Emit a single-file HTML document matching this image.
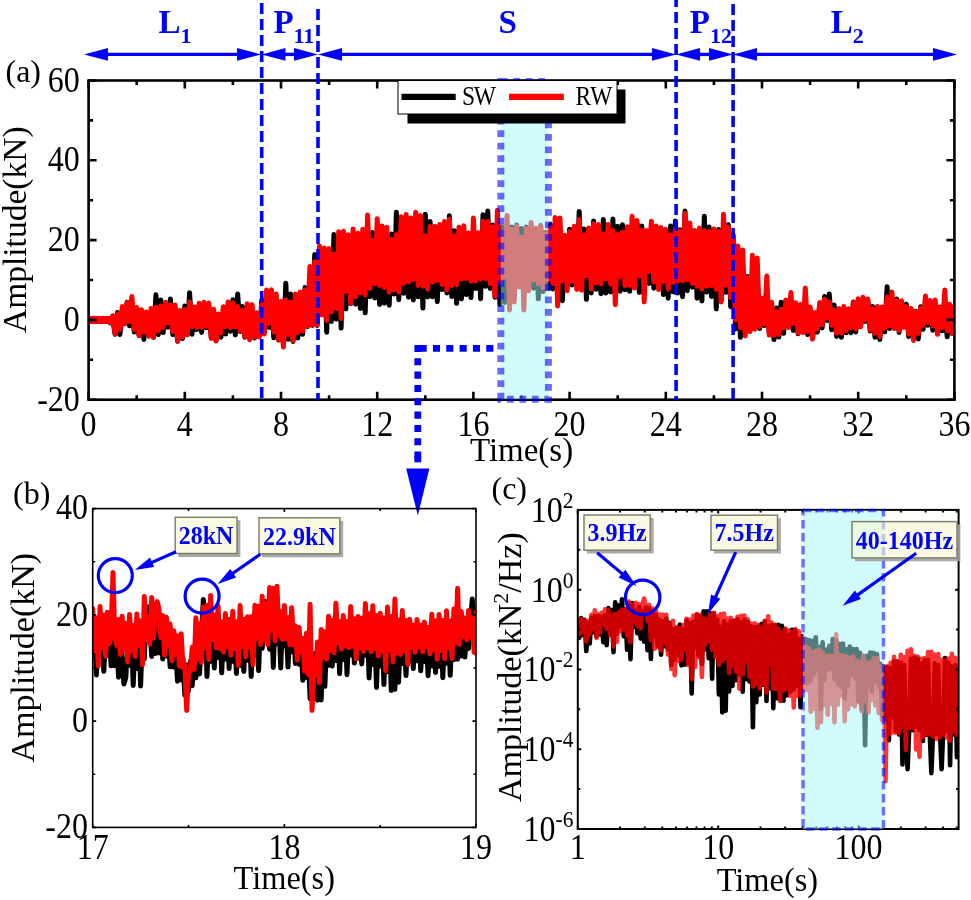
<!DOCTYPE html>
<html lang="en">
<head>
<meta charset="utf-8">
<title>Figure</title>
<style>html,body{margin:0;padding:0;background:#fff}svg{display:block}</style>
</head>
<body>
<svg width="971" height="900" viewBox="0 0 971 900" font-family="'Liberation Serif', 'Times New Roman', serif">
<rect width="971" height="900" fill="#fff"/>
<defs>
<clipPath id="ca"><rect x="88.6" y="80.5" width="865.8" height="319.2"/></clipPath>
<clipPath id="cb"><rect x="92.7" y="508.6" width="383.3" height="318.8"/></clipPath>
<clipPath id="cc"><rect x="577.8" y="509.9" width="380.8" height="319.1"/></clipPath>
</defs>
<g clip-path="url(#ca)" fill="none" stroke-linejoin="round" stroke-linecap="round" stroke-width="5">
<path stroke="#000" d="M88.6 321L91 321.2L93.4 320.9L95.8 321.3L98.2 320.8L100.6 321.4L103 320.8L105.4 321.4L107.8 320.7L110.2 322.9L112.6 318L115.1 334.3L117.5 312.6L119.9 334.5L122.3 312.2L124.7 323.7L127.1 302.3L129.5 325.7L131.9 307.8L134.3 332L136.7 312.7L139.1 335.6L141.5 311.7L143.9 339.4L146.3 312.7L148.7 332.8L151.1 314.3L153.5 337.3L155.9 294.8L158.3 334.5L160.8 300L163.2 332.6L165.6 303.6L168 327.2L170.4 299L172.8 334.6L175.2 316.7L177.6 341.3L180 314.6L182.4 338.5L184.8 305.9L187.2 334.5L189.6 292.8L192 334.2L194.4 309.7L196.8 329.6L199.2 305.1L201.6 332.4L204 303.3L206.4 327.7L208.8 309.7L211.3 338L213.7 313.5L216.1 340.7L218.5 315.4L220.9 337.2L223.3 312.5L225.7 334L228.1 307L230.5 331.2L232.9 299.8L235.3 334.9L237.7 294L240.1 331.4L242.5 306.5L244.9 337.3L247.3 310.2L249.7 338.6L252.1 313.1L254.5 338.1L256.9 313L259.4 334L261.8 300.1L264.2 333L266.6 292.4L269 327.3L271.4 300L273.8 337.8L276.2 300.6L278.6 340L281 306.6L283.4 343.3L285.8 283.2L288.2 339.3L290.6 293.9L293 341.4L295.4 303.2L297.8 338L300.2 300.7L302.6 334.3L305 287.6L307.5 326.6L309.9 276.2L312.3 325.5L314.7 254.5L317.1 325.5L319.5 269.3L321.9 314.5L324.3 267.2L326.7 332.2L329.1 250.9L331.5 321.4L333.9 234.6L336.3 319.3L338.7 237.2L341.1 328.1L343.5 243.6L345.9 308.9L348.3 250.8L350.7 303.7L353.1 248.3L355.6 304.2L358 248.1L360.4 308.4L362.8 236.8L365.2 312.8L367.6 237.1L370 296.7L372.4 232.4L374.8 298L377.2 242.5L379.6 304.4L382 235.8L384.4 303.2L386.8 239.5L389.2 305.2L391.6 234.1L394 294.1L396.4 212.2L398.8 299.7L401.2 228.5L403.7 293.3L406.1 234.2L408.5 297.2L410.9 234.7L413.3 300L415.7 241.9L418.1 296.8L420.5 226.7L422.9 308.1L425.3 214.2L427.7 296.9L430.1 221.5L432.5 296.8L434.9 241.7L437.3 301.7L439.7 240.6L442.1 289.6L444.5 235.1L446.9 292.9L449.4 215.8L451.8 296.6L454.2 230.8L456.6 303.3L459 229.9L461.4 299L463.8 238.3L466.2 294.6L468.6 234.9L471 297.6L473.4 231.4L475.8 288.6L478.2 234.5L480.6 298.8L483 214.7L485.4 286.3L487.8 211L490.2 288.5L492.6 225.1L495 297.3L497.4 242.3L499.9 304.4L502.3 226.7L504.7 302.4L507.1 227.7L509.5 283.3L511.9 227.1L514.3 291.5L516.7 224.9L519.1 286L521.5 228.6L523.9 289.7L526.3 227L528.7 289L531.1 232.8L533.5 288.2L535.9 232.1L538.3 298.8L540.7 225.5L543.1 291.6L545.6 232.5L548 288.6L550.4 224.4L552.8 289L555.2 227.1L557.6 287.7L560 234.6L562.4 300.7L564.8 241.6L567.2 283.8L569.6 229.2L572 285.1L574.4 227.7L576.8 285.6L579.2 211.4L581.6 285.8L584 229.1L586.4 299.5L588.8 229L591.2 292.9L593.6 221.1L596.1 289.3L598.5 234.4L600.9 293.7L603.3 219.6L605.7 293.1L608.1 237.7L610.5 292L612.9 219L615.3 295.4L617.7 226.3L620.1 291.2L622.5 224.7L624.9 289.8L627.3 231.8L629.7 291.3L632.1 240.3L634.5 284.9L636.9 222.8L639.3 292.4L641.8 226.1L644.2 292.7L646.6 232.4L649 283.4L651.4 224.7L653.8 288.2L656.2 228.8L658.6 284.2L661 229.7L663.4 294.6L665.8 232.1L668.2 298.2L670.6 225.9L673 291.8L675.4 220.9L677.8 293.1L680.2 229.7L682.6 296.7L685 211L687.4 290.7L689.9 235.7L692.3 287.2L694.7 231.1L697.1 298.2L699.5 237.4L701.9 300.9L704.3 216.2L706.7 292.1L709.1 227L711.5 296.4L713.9 229.7L716.3 308.9L718.7 229.6L721.1 300.4L723.5 232.8L725.9 292.3L728.3 224.7L730.7 306.8L733.1 234.7L735.5 329L737.9 269L740.4 337.3L742.8 266.3L745.2 327.8L747.6 276.4L750 330.7L752.4 279.1L754.8 325.5L757.2 283.6L759.6 328.6L762 299.3L764.4 325.6L766.8 299L769.2 332.5L771.6 309.3L774 339.6L776.4 308.1L778.8 337.1L781.2 302.2L783.6 333.2L786 300.2L788.5 324.5L790.9 302.2L793.3 330.5L795.7 307L798.1 333.8L800.5 311.4L802.9 330.8L805.3 305.5L807.7 334.5L810.1 308.9L812.5 338.6L814.9 313.9L817.3 332.3L819.7 304.9L822.1 328.1L824.5 296.6L826.9 320.5L829.3 294L831.7 329.8L834.1 304.9L836.6 336.4L839 309.7L841.4 337.3L843.8 310.8L846.2 332.7L848.6 309.1L851 332.7L853.4 302L855.8 331.9L858.2 300.9L860.6 325.2L863 304.6L865.4 321.4L867.8 300.4L870.2 331L872.6 306.4L875 337.2L877.4 314.3L879.8 339.6L882.2 307.5L884.7 331.8L887.1 286.8L889.5 328.4L891.9 304.1L894.3 328.3L896.7 298.9L899.1 332.4L901.5 302.6L903.9 327L906.3 304.2L908.7 336.5L911.1 309.1L913.5 336.7L915.9 311.2L918.3 338.9L920.7 306.8L923.1 329.3L925.5 300.4L927.9 325.2L930.4 302.9L932.8 330.2L935.2 303.9L937.6 333.8L940 312.2L942.4 330.8L944.8 308.2L947.2 336.7L949.6 310.2L952 333.3L954.4 311.8"/>
<path stroke="#ff0000" d="M88.6 318.6L91 321.2L93.4 318.5L95.8 321.3L98.2 318.5L100.6 321.4L103 318.4L105.4 321.4L107.8 318.3L110.2 322.6L112.6 315.7L115.1 333.6L117.5 313.8L119.9 329.6L122.3 306.4L124.7 323.4L127.1 302.6L129.5 321.6L131.9 296.5L134.3 329.4L136.7 307.5L139.1 335.8L141.5 309.7L143.9 332.2L146.3 312.1L148.7 336.3L151.1 308.4L153.5 337.1L155.9 307.2L158.3 330.7L160.8 306.1L163.2 327.4L165.6 302.3L168 323L170.4 305L172.8 331.6L175.2 304.9L177.6 341.2L180 310.5L182.4 337.1L184.8 309.6L187.2 334.7L189.6 302.1L192 326.7L194.4 306.9L196.8 327.5L199.2 303.2L201.6 327.3L204 302.3L206.4 326.2L208.8 303L211.3 338.3L213.7 309.3L216.1 340.9L218.5 314L220.9 332.8L223.3 306.8L225.7 326.6L228.1 302L230.5 327.8L232.9 302.9L235.3 326.9L237.7 306.4L240.1 330.7L242.5 310.3L244.9 336.5L247.3 303.8L249.7 339.7L252.1 304.8L254.5 337L256.9 313.1L259.4 337L261.8 304.8L264.2 334L266.6 289.9L269 323.3L271.4 289.7L273.8 332.1L276.2 294.1L278.6 339.6L281 301.4L283.4 347L285.8 299.7L288.2 334.3L290.6 302.1L293 340.5L295.4 294.1L297.8 332.6L300.2 291.9L302.6 331L305 290L307.5 326.1L309.9 266.6L312.3 324.9L314.7 261.7L317.1 324.8L319.5 246L321.9 314.9L324.3 248.1L326.7 320.3L329.1 248.5L331.5 312L333.9 253.9L336.3 308.5L338.7 231.7L341.1 318.5L343.5 231.2L345.9 291.3L348.3 234.7L350.7 303.2L353.1 228.9L355.6 296.6L358 233.2L360.4 293L362.8 229.2L365.2 294.9L367.6 215L370 288.3L372.4 240L374.8 283.7L377.2 218.7L379.6 285.5L382 225.9L384.4 287.4L386.8 227.3L389.2 292.2L391.6 239.3L394 289.8L396.4 234.4L398.8 291.9L401.2 216.8L403.7 283.3L406.1 214.5L408.5 282L410.9 217.9L413.3 279.4L415.7 212.2L418.1 285.5L420.5 215.4L422.9 286.2L425.3 235.7L427.7 288.9L430.1 226.4L432.5 282.1L434.9 226.3L437.3 280.5L439.7 224.4L442.1 284.4L444.5 221.5L446.9 289.7L449.4 219.2L451.8 285.6L454.2 235.7L456.6 284.7L459 227.2L461.4 278.9L463.8 225.8L466.2 278.6L468.6 233L471 281.1L473.4 218L475.8 280.9L478.2 232.8L480.6 278.9L483 221.2L485.4 278.7L487.8 221.5L490.2 283.7L492.6 226.7L495 296L497.4 210.2L499.9 281.9L502.3 232.8L504.7 277.3L507.1 215.4L509.5 309.9L511.9 229.3L514.3 301.9L516.7 226.3L519.1 287L521.5 237.1L523.9 309.9L526.3 228.4L528.7 290.8L531.1 222.5L533.5 279.8L535.9 228.3L538.3 283.8L540.7 225.9L543.1 287.7L545.6 233.8L548 279.6L550.4 227.7L552.8 283.6L555.2 217.4L557.6 305.9L560 217.9L562.4 280.7L564.8 235.3L567.2 290.7L569.6 231.7L572 281.3L574.4 226.3L576.8 289.4L579.2 219.4L581.6 290.2L584 234.8L586.4 275.8L588.8 228.1L591.2 288.8L593.6 223.7L596.1 282.8L598.5 224.5L600.9 284L603.3 233.8L605.7 278.8L608.1 224.6L610.5 284L612.9 230.5L615.3 304.7L617.7 234.4L620.1 276.4L622.5 232.1L624.9 285.6L627.3 226.8L629.7 285.3L632.1 216.2L634.5 288.1L636.9 220.4L639.3 275.8L641.8 229.9L644.2 301.9L646.6 230.4L649 271.5L651.4 221.2L653.8 281.8L656.2 226.1L658.6 289.6L661 227.5L663.4 281.4L665.8 229.3L668.2 288.9L670.6 234.8L673 282.3L675.4 228.9L677.8 280.9L680.2 230.9L682.6 280.7L685 213.4L687.4 279.8L689.9 223L692.3 283.5L694.7 230.4L697.1 286.3L699.5 228.1L701.9 289L704.3 230.7L706.7 286.1L709.1 231.6L711.5 285.7L713.9 229L716.3 289.5L718.7 231.3L721.1 301.9L723.5 214.3L725.9 285.3L728.3 227.1L730.7 297.8L733.1 237.3L735.5 320L737.9 246.1L740.4 327.7L742.8 250.1L745.2 336L747.6 277.4L750 331.6L752.4 255.3L754.8 329.2L757.2 258.1L759.6 326.5L762 298.3L764.4 323.9L766.8 276L769.2 335.1L771.6 302.2L774 335.2L776.4 311.8L778.8 334.3L781.2 308.9L783.6 328.1L786 300.2L788.5 327.6L790.9 292.6L793.3 323.4L795.7 302.8L798.1 333L800.5 304.4L802.9 332.5L805.3 288L807.7 331.5L810.1 306.9L812.5 339L814.9 312.6L817.3 329.1L819.7 302.4L822.1 324.7L824.5 299.3L826.9 317.9L829.3 301.9L831.7 325.2L834.1 309.9L836.6 333.3L839 308.5L841.4 333L843.8 306.6L846.2 330.7L848.6 309.3L851 327.7L853.4 302.5L855.8 329.1L858.2 298.7L860.6 326.9L863 297.2L865.4 319.9L867.8 299.1L870.2 329.9L872.6 308.7L875 333.3L877.4 306.5L879.8 336.4L882.2 306.9L884.7 328.3L887.1 297.1L889.5 325.8L891.9 292L894.3 328.3L896.7 300.9L899.1 330.4L901.5 300.8L903.9 327.3L906.3 306.5L908.7 334.1L911.1 308.6L913.5 340.4L915.9 311.5L918.3 333.4L920.7 307.9L923.1 325.5L925.5 295.9L927.9 322L930.4 300.5L932.8 326L935.2 300.1L937.6 334.3L940 306.9L942.4 327.4L944.8 290L947.2 330.7L949.6 304.3L952 333.3L954.4 306.3"/>
<path stroke="#ff0000" stroke-width="7.6" stroke-linecap="butt" d="M88.6 319.9H110.2"/>
</g>
<g stroke="#000" stroke-width="2.6" fill="none">
<rect x="88.6" y="80.5" width="865.8" height="319.2"/>
<path d="M88.6 399.7v-8 M88.6 80.5v8M136.7 399.7v-4.5 M136.7 80.5v4.5M184.8 399.7v-8 M184.8 80.5v8M232.9 399.7v-4.5 M232.9 80.5v4.5M281 399.7v-8 M281 80.5v8M329.1 399.7v-4.5 M329.1 80.5v4.5M377.2 399.7v-8 M377.2 80.5v8M425.3 399.7v-4.5 M425.3 80.5v4.5M473.4 399.7v-8 M473.4 80.5v8M521.5 399.7v-4.5 M521.5 80.5v4.5M569.6 399.7v-8 M569.6 80.5v8M617.7 399.7v-4.5 M617.7 80.5v4.5M665.8 399.7v-8 M665.8 80.5v8M713.9 399.7v-4.5 M713.9 80.5v4.5M762 399.7v-8 M762 80.5v8M810.1 399.7v-4.5 M810.1 80.5v4.5M858.2 399.7v-8 M858.2 80.5v8M906.3 399.7v-4.5 M906.3 80.5v4.5M954.4 399.7v-8 M954.4 80.5v8M88.6 399.7h8 M954.4 399.7h-8M88.6 359.8h4.5 M954.4 359.8h-4.5M88.6 319.9h8 M954.4 319.9h-8M88.6 280h4.5 M954.4 280h-4.5M88.6 240.1h8 M954.4 240.1h-8M88.6 200.2h4.5 M954.4 200.2h-4.5M88.6 160.3h8 M954.4 160.3h-8M88.6 120.4h4.5 M954.4 120.4h-4.5M88.6 80.5h8 M954.4 80.5h-8"/>
</g>
<rect x="500.8" y="81.5" width="47.6" height="317.7" fill="rgb(165,250,250)" fill-opacity="0.5" stroke="#0000ff" stroke-opacity="0.58" stroke-width="7" stroke-dasharray="6.8 5.7"/>
<g stroke="#0000ff" stroke-width="3.6" stroke-dasharray="11 5" fill="none">
<path d="M261.7 3V399.7"/>
<path d="M318 9V399.7"/>
<path d="M676.1 -4V399.7"/>
<path d="M733.1 4V399.7"/>
</g>
<rect x="407.5" y="89.5" width="218" height="34" fill="#000"/>
<rect x="398" y="80.5" width="219" height="33.5" fill="#fff" stroke="#000" stroke-width="1"/>
<path d="M401.5 96.9H455.7" stroke="#000" stroke-width="6.4"/>
<path d="M509 96.9H563.8" stroke="#ff0000" stroke-width="6.4"/>
<text transform="translate(462 104.8) scale(1 1.17)" font-size="23.5" textLength="34" lengthAdjust="spacing">SW</text>
<text transform="translate(575.5 104.8) scale(1 1.17)" font-size="23.5" textLength="37" lengthAdjust="spacing">RW</text>
<g font-size="32" fill="#000">
<text transform="translate(88.6 436.2) scale(1 1.09)" text-anchor="middle">0</text>
<text transform="translate(184.8 436.2) scale(1 1.09)" text-anchor="middle">4</text>
<text transform="translate(281 436.2) scale(1 1.09)" text-anchor="middle">8</text>
<text transform="translate(377.2 436.2) scale(1 1.09)" text-anchor="middle">12</text>
<text transform="translate(473.4 436.2) scale(1 1.09)" text-anchor="middle">16</text>
<text transform="translate(569.6 436.2) scale(1 1.09)" text-anchor="middle">20</text>
<text transform="translate(665.8 436.2) scale(1 1.09)" text-anchor="middle">24</text>
<text transform="translate(762 436.2) scale(1 1.09)" text-anchor="middle">28</text>
<text transform="translate(858.2 436.2) scale(1 1.09)" text-anchor="middle">32</text>
<text transform="translate(954.4 436.2) scale(1 1.09)" text-anchor="middle">36</text>
<text transform="translate(79.8 410.7) scale(1 1.09)" text-anchor="end">-20</text>
<text transform="translate(79.8 330.9) scale(1 1.09)" text-anchor="end">0</text>
<text transform="translate(79.8 251.1) scale(1 1.09)" text-anchor="end">20</text>
<text transform="translate(79.8 171.3) scale(1 1.09)" text-anchor="end">40</text>
<text transform="translate(79.8 91.5) scale(1 1.09)" text-anchor="end">60</text>
<text transform="translate(469.9 461.2) scale(1 1.05)" font-size="33">Time(s)</text>
<text transform="translate(25.7 333) rotate(-90)" font-size="33.5">Amplitude(kN)</text>
<text x="5.5" y="82">(a)</text>
</g>
<path d="M106 54.4H239" stroke="#0000ff" stroke-width="3.4"/><path d="M84 54.4l24 -6.3v12.6z" fill="#0000ff"/><path d="M261 54.4l-24 -6.3v12.6z" fill="#0000ff"/>
<path d="M283.5 54.4H296" stroke="#0000ff" stroke-width="3.4"/><path d="M261.5 54.4l24 -6.3v12.6z" fill="#0000ff"/><path d="M318 54.4l-24 -6.3v12.6z" fill="#0000ff"/>
<path d="M340 54.4H654" stroke="#0000ff" stroke-width="3.4"/><path d="M318 54.4l24 -6.3v12.6z" fill="#0000ff"/><path d="M676 54.4l-24 -6.3v12.6z" fill="#0000ff"/>
<path d="M698 54.4H711" stroke="#0000ff" stroke-width="3.4"/><path d="M676 54.4l24 -6.3v12.6z" fill="#0000ff"/><path d="M733 54.4l-24 -6.3v12.6z" fill="#0000ff"/>
<path d="M755 54.4H935" stroke="#0000ff" stroke-width="3.4"/><path d="M733 54.4l24 -6.3v12.6z" fill="#0000ff"/><path d="M957 54.4l-24 -6.3v12.6z" fill="#0000ff"/>
<g font-weight="bold" fill="#0000ff" font-size="33">
<text x="158.6" y="33.3">L<tspan font-size="22" dy="9.3">1</tspan></text>
<text x="273.4" y="33.3">P<tspan font-size="22" dy="9.3">11</tspan></text>
<text x="498.5" y="33.3">S<tspan font-size="22" dy="9.3"></tspan></text>
<text x="689.8" y="33.3">P<tspan font-size="22" dy="9.3">12</tspan></text>
<text x="830.8" y="33.3">L<tspan font-size="22" dy="9.3">2</tspan></text>
</g>
<path d="M419.6 348.4H494M417.8 344.9V463" fill="none" stroke="#0000ff" stroke-width="6.8" stroke-dasharray="7.1 6.23"/>
<path d="M417.8 456V462.3" fill="none" stroke="#0000ff" stroke-width="6.8"/>
<path d="M406.2 468.4h23.2l-11.6 47.2z" fill="#0000ff"/>
<g clip-path="url(#cb)" fill="none" stroke-linejoin="round" stroke-linecap="round" stroke-width="5">
<path stroke="#000" d="M92.7 655.5L94.5 621.8L96.4 675L98.2 632.3L100.1 656.9L101.9 627.1L103.8 671.3L105.6 633.2L107.4 655.6L109.3 628.1L111.1 665.8L113 632L114.8 665.7L116.7 633.5L118.5 677.2L120.3 636.1L122.2 667.3L124 683.9L125.9 677L127.7 637.2L129.6 665.2L131.4 630.1L133.2 685.5L135.1 636.1L136.9 668.6L138.8 622.4L140.6 686L142.5 632.4L144.3 658.8L146.1 615L148 606.9L149.8 622.8L151.7 656.4L153.5 619.3L155.4 653.6L157.2 620.3L159 652.9L160.9 618.9L162.7 659L164.6 631.8L166.4 656L168.3 631.7L170.1 666.8L171.9 642.2L173.8 667L175.6 645.9L177.5 681.2L179.3 653.1L181.2 679.9L183 658.3L184.8 695.2L186.7 665L188.5 690.9L190.4 661.3L192.2 685.7L194.1 654L195.9 677.8L197.7 641.5L199.6 674L201.4 637.7L203.3 599.5L205.1 620L207 676.6L208.8 626.4L210.6 661.2L212.5 624.6L214.3 668L216.2 630.7L218 657.6L219.9 625L221.7 672.8L223.5 633.6L225.4 658.9L227.2 631.8L229.1 668.6L230.9 634.2L232.8 661.3L234.6 628.8L236.4 673.5L238.3 636.3L240.1 665.4L242 629L243.8 671.4L245.7 632.9L247.5 660.2L249.3 629.7L251.2 676.5L253 629.2L254.9 654.8L256.7 622.9L258.6 670.6L260.4 623.8L262.2 648.3L264.1 612.1L265.9 601.6L267.8 621.2L269.6 649.2L271.5 615.3L273.3 667.4L275.1 616.2L277 643.5L278.8 617.6L280.7 668L282.5 623.7L284.4 646.1L286.2 625.4L288 667.1L289.9 630.9L291.7 651.7L293.6 629.3L295.4 663.4L297.2 640L299.1 664.3L300.9 639.1L302.8 680.3L304.6 652.7L306.5 677.4L308.3 657.2L310.1 698.7L312 669.1L313.8 686.8L315.7 652.7L317.5 700.2L319.4 653.7L321.2 699.9L323 637.2L324.9 686.3L326.7 637.7L328.6 665.3L330.4 621.5L332.3 666.2L334.1 631.8L335.9 660.5L337.8 622.8L339.6 673.7L341.5 629.5L343.3 659.5L345.2 624.4L347 674.7L348.8 631.6L350.7 655.1L352.5 623.4L354.4 663.1L356.2 631.5L358.1 658.1L359.9 627.8L361.7 663.9L363.6 630L365.4 655.3L367.3 621.6L369.1 678L371 631.9L372.8 664.6L374.6 626.8L376.5 687.5L378.3 633.5L380.2 665.9L382 624.1L383.9 684.6L385.7 631.7L387.5 671.6L389.4 619.1L391.2 690.5L393.1 636L394.9 689.3L396.8 627L398.6 682.2L400.4 635.5L402.3 663.5L404.1 633.5L406 675.6L407.8 635.4L409.7 659.9L411.5 634.8L413.3 668.5L415.2 636.5L417 660.7L418.9 629.1L420.7 670.8L422.6 639.6L424.4 661.4L426.2 636.4L428.1 675.7L429.9 639.5L431.8 665.9L433.6 632.5L435.5 672.5L437.3 639.7L439.1 666.3L441 625.4L442.8 677.7L444.7 634.2L446.5 663.3L448.4 625L450.2 675.3L452 634.8L453.9 659.6L455.7 621.6L457.6 659.2L459.4 632.4L461.3 655.9L463.1 627.8L464.9 657.1L466.8 626.4L468.6 648.4L470.5 620.6L472.3 598.9L474.2 633.3L476 652.9"/>
<path stroke="#ff0000" d="M92.7 608.6L94.5 650.8L96.4 618L98.2 666L100.1 606.4L101.9 647.8L103.8 614.9L105.6 656.2L107.4 612.3L109.3 644L111.1 630.8L113 572.4L114.8 638.8L116.7 645.4L118.5 619.6L120.3 654.4L122.2 616.3L124 648.8L125.9 623.3L127.7 662L129.6 614.4L131.4 651.1L133.2 625.3L135.1 656.3L136.9 613.9L138.8 645.4L140.6 620.7L142.5 664.6L144.3 596.6L146.1 640.2L148 616.5L149.8 644.2L151.7 597.4L153.5 638L155.4 611.3L157.2 601.6L159 609L160.9 637.6L162.7 615.4L164.6 654.8L166.4 617.2L168.3 645.9L170.1 624.1L171.9 660.7L173.8 630.8L175.6 654.6L177.5 635.8L179.3 666L181.2 633.8L183 667.8L184.8 665.3L186.7 710.5L188.5 673.3L190.4 670.7L192.2 647.3L194.1 669.3L195.9 617.8L197.7 659.2L199.6 624.1L201.4 662.4L203.3 607.1L205.1 648.2L207 605.3L208.8 659.5L210.6 595.4L212.5 639.4L214.3 614.9L216.2 647.8L218 605.4L219.9 648.7L221.7 622L223.5 652L225.4 613.6L227.2 646.7L229.1 619.3L230.9 655.1L232.8 611.2L234.6 648.7L236.4 621.7L238.3 665.4L240.1 605.6L242 646.4L243.8 619.2L245.7 657L247.5 616.8L249.3 647.1L251.2 616.7L253 665L254.9 605.3L256.7 638.5L258.6 606.2L260.4 644.5L262.2 596.3L264.1 640.6L265.9 603.8L267.8 644.9L269.6 587.6L271.5 629.9L273.3 588.3L275.1 640.7L277 586.2L278.8 635.8L280.7 611.8L282.5 639.4L284.4 605.4L286.2 638.8L288 617.6L289.9 644.9L291.7 607.7L293.6 645L295.4 625.7L297.2 660L299.1 627.5L300.9 652.8L302.8 638.5L304.6 671.3L306.5 633.2L308.3 674.5L310.1 604.2L312 710.5L313.8 673.3L315.7 675.1L317.5 642L319.4 682.6L321.2 629.6L323 656.7L324.9 631.8L326.7 658.9L328.6 616.3L330.4 650.4L332.3 620.6L334.1 652.7L335.9 603.2L337.8 642.5L339.6 621.4L341.5 648.9L343.3 615.4L345.2 646.2L347 621.4L348.8 647.7L350.7 606.4L352.5 646.1L354.4 618.7L356.2 658.9L358.1 616.4L359.9 648.2L361.7 618.2L363.6 651.4L365.4 603.5L367.3 648L369.1 613.6L371 651.7L372.8 605.7L374.6 648.7L376.5 615.4L378.3 656L380.2 613.2L382 651L383.9 618.1L385.7 670.7L387.5 607L389.4 650.2L391.2 616.6L393.1 661.7L394.9 599L396.8 652.9L398.6 620.1L400.4 654.4L402.3 610.5L404.1 650.7L406 620.5L407.8 664.3L409.7 619.3L411.5 646.9L413.3 624.9L415.2 652.2L417 619.4L418.9 647L420.7 624.9L422.6 651.8L424.4 622.1L426.2 646.6L428.1 627.6L429.9 653.9L431.8 614.2L433.6 650.1L435.5 620.7L437.3 659.3L439.1 614.4L441 650.4L442.8 620.4L444.7 658.7L446.5 610.8L448.4 647.7L450.2 621L452 658.4L453.9 609.1L455.7 642.3L457.6 588.3L459.4 644.3L461.3 611.5L463.1 636L464.9 618.1L466.8 639.7L468.6 610.5L470.5 637.2L472.3 617.7L474.2 652.4L476 612.6"/>
</g>
<g stroke="#000" stroke-width="1.6" fill="none">
<rect x="92.7" y="508.6" width="383.3" height="318.8"/>
<path d="M92.7 827.4v-3.5 M92.7 508.6v3.5M188.5 827.4v-2.5 M188.5 508.6v2.5M284.4 827.4v-3.5 M284.4 508.6v3.5M380.2 827.4v-2.5 M380.2 508.6v2.5M476 827.4v-3.5 M476 508.6v3.5M92.7 827.4h3.5 M476 827.4h-3.5M92.7 774.3h2.5 M476 774.3h-2.5M92.7 721.1h3.5 M476 721.1h-3.5M92.7 668h2.5 M476 668h-2.5M92.7 614.9h3.5 M476 614.9h-3.5M92.7 561.7h2.5 M476 561.7h-2.5M92.7 508.6h3.5 M476 508.6h-3.5"/>
</g>
<g font-size="32" fill="#000">
<text transform="translate(92.7 859) scale(1 1.09)" text-anchor="middle">17</text>
<text transform="translate(284.4 859) scale(1 1.09)" text-anchor="middle">18</text>
<text transform="translate(476 859) scale(1 1.09)" text-anchor="middle">19</text>
<text transform="translate(88 838.2) scale(1 1.09)" text-anchor="end">-20</text>
<text transform="translate(88 731.9) scale(1 1.09)" text-anchor="end">0</text>
<text transform="translate(88 625.7) scale(1 1.09)" text-anchor="end">20</text>
<text transform="translate(88 519.4) scale(1 1.09)" text-anchor="end">40</text>
<text transform="translate(233.6 889.2) scale(1 1.05)" font-size="32.4">Time(s)</text>
<text transform="translate(34.2 762.5) rotate(-90)" font-size="34">Amplitude(kN)</text>
<text x="13" y="503.5">(b)</text>
</g>
<circle cx="115.3" cy="575.6" r="17" fill="none" stroke="#0000ff" stroke-width="3.2"/>
<circle cx="202.1" cy="596.2" r="17" fill="none" stroke="#0000ff" stroke-width="3.2"/>
<path d="M237 520.3H240.4V556.9H178.2V553.5H237z" fill="#a0a0a0" fill-opacity="0.9"/><rect x="175.2" y="517.3" width="61.8" height="36.2" fill="rgb(247,247,212)" fill-opacity="0.62" stroke="#80806c" stroke-width="1.5"/><text transform="translate(206.1 544.1) scale(1 1.09)" text-anchor="middle" font-size="24" font-weight="bold" fill="#0000ff">28kN</text>
<path d="M339.8 520.8H343.2V557.2H262V553.8H339.8z" fill="#a0a0a0" fill-opacity="0.9"/><rect x="259" y="517.8" width="80.8" height="36" fill="rgb(247,247,212)" fill-opacity="0.62" stroke="#80806c" stroke-width="1.5"/><text transform="translate(299.4 544.5) scale(1 1.09)" text-anchor="middle" font-size="24" font-weight="bold" fill="#0000ff">22.9kN</text>
<path d="M176 551.8L150.3 563.1" stroke="#0000ff" stroke-width="3.2"/><path d="M134.7 569.9L150 557.5L154.2 567z" fill="#0000ff"/>
<path d="M260.3 554.2L231.5 574.3" stroke="#0000ff" stroke-width="3.2"/><path d="M217.6 584L230.2 568.9L236.2 577.4z" fill="#0000ff"/>
<g clip-path="url(#cc)" fill="none" stroke-linejoin="round" stroke-linecap="round" stroke-width="4.6">
<path stroke="#000" d="M577.8 625.7L579.5 637.6L581.2 618L582.9 634.9L584.6 619.9L586.3 651L588 623.1L589.7 643.5L591.4 617.7L593.1 632.3L594.8 616.4L596.5 636.4L598.2 616.1L599.9 634.4L601.6 616.6L603.3 642.3L605 615L606.7 645.1L608.4 608L610.1 634.2L611.8 610L613.5 652.1L615.2 602.4L616.9 633.9L618.6 605.3L620.3 626.2L622 599.4L623.7 636.3L625.4 609L627.1 649.7L628.8 603.8L630.5 659.1L632.2 603L633.9 626.6L635.6 610.9L637.3 633.3L639 606.7L640.7 638.5L642.4 611.5L644.1 641.7L645.8 607.5L647.5 650.1L649.2 608L650.9 658.9L652.6 611.1L654.3 636.3L656 614.6L657.7 646.2L659.4 620L661.1 654.7L662.8 621.3L664.5 646.3L666.2 618.6L667.9 649.2L669.6 622.7L671.3 665L673 629.1L674.7 659.6L676.4 628.2L678.1 655.3L679.8 624.6L681.5 665.4L683.2 629.3L684.9 664.6L686.6 620.3L688.3 662.8L690 623.1L691.7 693.4L693.4 621.9L695.1 647.7L696.8 614.7L698.5 655.8L700.2 616.3L701.9 664L703.6 611.4L705.3 649.3L707 611.4L708.7 658.2L710.4 613.4L712.1 678.7L713.8 613.2L715.5 655.4L717.2 619.5L718.9 694.4L720.6 626.8L722.3 712.4L724 621.2L725.7 710.7L727.4 624.9L729.1 691.4L730.8 621.2L732.5 686L734.2 621.1L735.9 680.3L737.6 619.4L739.3 674.6L741 622.2L742.7 691.7L744.4 619.8L746.1 679.3L747.8 622.1L749.5 681.4L751.2 626.3L752.9 727.3L754.6 627.3L756.3 702.3L758 626.5L759.7 694.4L761.4 624.1L763.1 684.6L764.8 621.2L766.5 701L768.2 626.4L769.9 688.1L771.6 625.1L773.3 708.2L775 625.4L776.7 698.3L778.4 624.7L780.1 700.3L781.8 625.7L783.5 700.7L785.2 629.4L786.9 695.4L788.6 634.7L790.3 691.6L792 629.9L793.7 689.5L795.4 629.8L797.1 685.5L798.8 638.8L800.5 707.1L802.2 636.4L803.9 679.9L805.6 639L807.3 683.5L809 640L810.7 681.2L812.4 640.9L814.1 674.5L815.8 637.4L817.5 668.7L819.2 647L820.9 709L822.6 642.4L824.3 679.9L826 649.6L827.7 669.7L829.4 645.9L831.1 669.2L832.8 639.1L834.5 679L836.2 640.6L837.9 684.1L839.6 643.7L841.3 686.8L843 643.6L844.7 698.4L846.4 649.2L848.1 685.4L849.8 646.6L851.5 675L853.2 649L854.9 678.2L856.6 649L858.3 700.8L860 652.7L861.7 708.8L863.4 656L865.1 745.2L866.8 655.9L868.5 684.9L870.2 652.5L871.9 691.6L873.6 652.7L875.3 681.4L877 654L878.7 686.5L880.4 663.9L882.1 715.3L883.8 669L885.5 719.8L887.2 666.8L888.9 740.2L890.6 668.2L892.3 717.7L894 661.4L895.7 730.9L897.4 661.5L899.1 734.5L900.8 662.9L902.5 764.4L904.2 665.1L905.9 727.5L907.6 769.2L909.3 725.6L911 658.7L912.7 730.3L914.4 657.6L916.1 726.9L917.8 658.7L919.5 729.9L921.2 663.7L922.9 741L924.6 660.3L926.3 734.7L928 659.9L929.7 732.8L931.4 773.2L933.1 729.7L934.8 663.4L936.5 733.6L938.2 665.1L939.9 731.2L941.6 769.2L943.3 728.7L945 658L946.7 731.3L948.4 662.8L950.1 765.2L951.8 666.5L953.5 734.4L955.2 665.4L956.9 757.2"/>
<path stroke="#ff0000" stroke-opacity="0.8" d="M577.8 622.1L579.5 633.9L581.2 619L582.9 632L584.6 620.6L586.3 641.3L588 621L589.7 634.3L591.4 614.9L593.1 629.2L594.8 610.3L596.5 638L598.2 614.2L599.9 633L601.6 612.8L603.3 624.4L605 609.4L606.7 629L608.4 610L610.1 634.9L611.8 614.8L613.5 646.4L615.2 614L616.9 641.9L618.6 612.4L620.3 631.5L622 609.8L623.7 629.7L625.4 609.4L627.1 635.9L628.8 601.5L630.5 642.2L632.2 604.9L633.9 621.4L635.6 602.7L637.3 625.9L639 604L640.7 628.4L642.4 604.8L644.1 598.5L645.8 608.4L647.5 621L649.2 604.7L650.9 639.9L652.6 608.5L654.3 648.8L656 611.1L657.7 647.3L659.4 614.6L661.1 650.4L662.8 614.5L664.5 642.9L666.2 614.7L667.9 654.5L669.6 623.6L671.3 668.8L673 620.9L674.7 675.1L676.4 627.2L678.1 661L679.8 628.3L681.5 659.7L683.2 625L684.9 650.1L686.6 618.8L688.3 665L690 619.6L691.7 679.2L693.4 615.6L695.1 666.9L696.8 614L698.5 657.3L700.2 614.7L701.9 676.9L703.6 618.3L705.3 644.8L707 618.8L708.7 641.4L710.4 614.4L712.1 649.7L713.8 612.8L715.5 656.9L717.2 616.4L718.9 664.6L720.6 614.1L722.3 660.9L724 613.5L725.7 658.3L727.4 618.6L729.1 672.6L730.8 617.7L732.5 665.9L734.2 620.4L735.9 671.5L737.6 616.8L739.3 688.6L741 615.7L742.7 674.1L744.4 615.6L746.1 662L747.8 619.3L749.5 676.8L751.2 623.5L752.9 686.4L754.6 623.2L756.3 683.6L758 625L759.7 688.4L761.4 627.7L763.1 684L764.8 620.9L766.5 692.5L768.2 616.2L769.9 664.4L771.6 622.5L773.3 688.6L775 624.8L776.7 689.3L778.4 628.7L780.1 700.9L781.8 632.8L783.5 690.5L785.2 628.6L786.9 688.8L788.6 630.2L790.3 695.8L792 631.9L793.7 707.4L795.4 629.2L797.1 696L798.8 631.3L800.5 695.4L802.2 637.9L803.9 691L805.6 646.4L807.3 689.9L809 648.2L810.7 711.7L812.4 652.2L814.1 709L815.8 650.8L817.5 727.6L819.2 649.6L820.9 722.2L822.6 652.3L824.3 704.9L826 656L827.7 714.6L829.4 655.5L831.1 703.7L832.8 656.4L834.5 722.1L836.2 634.3L837.9 704.5L839.6 655L841.3 695.1L843 655.3L844.7 721.2L846.4 656.5L848.1 709.1L849.8 657.7L851.5 704.3L853.2 656.5L854.9 706.4L856.6 660.5L858.3 702.1L860 661.9L861.7 711.1L863.4 655.7L865.1 701.8L866.8 662.6L868.5 712.3L870.2 662.4L871.9 700.1L873.6 658.2L875.3 705.4L877 658L878.7 713L880.4 666.4L882.1 720.5L883.8 666.5L885.5 781.1L887.2 666.8L888.9 734.3L890.6 662.7L892.3 732.4L894 656.7L895.7 732.8L897.4 661.6L899.1 733.3L900.8 654.8L902.5 726.7L904.2 657.1L905.9 749.9L907.6 650.7L909.3 727.7L911 649.3L912.7 728L914.4 655.8L916.1 749.5L917.8 656.5L919.5 756.7L921.2 658.8L922.9 737.3L924.6 658.1L926.3 734.2L928 652.1L929.7 734.4L931.4 651.8L933.1 736.1L934.8 654.5L936.5 738.9L938.2 654.1L939.9 737.3L941.6 659.9L943.3 734.1L945 660.5L946.7 737.4L948.4 658.5L950.1 740.6L951.8 653.9L953.5 731.5L955.2 657.7L956.9 734.8"/>
</g>
<g stroke="#000" stroke-width="2" fill="none">
<rect x="577.8" y="509.9" width="380.8" height="319.1"/>
<path d="M577.8 829v-3.5 M577.8 509.9v3.5M620.1 829v-2.5 M620.1 509.9v2.5M644.8 829v-2.5 M644.8 509.9v2.5M662.3 829v-2.5 M662.3 509.9v2.5M675.9 829v-2.5 M675.9 509.9v2.5M687.1 829v-2.5 M687.1 509.9v2.5M696.5 829v-2.5 M696.5 509.9v2.5M704.6 829v-2.5 M704.6 509.9v2.5M711.8 829v-2.5 M711.8 509.9v2.5M718.2 829v-3.5 M718.2 509.9v3.5M760.5 829v-2.5 M760.5 509.9v2.5M785.2 829v-2.5 M785.2 509.9v2.5M802.7 829v-2.5 M802.7 509.9v2.5M816.3 829v-2.5 M816.3 509.9v2.5M827.5 829v-2.5 M827.5 509.9v2.5M836.9 829v-2.5 M836.9 509.9v2.5M845 829v-2.5 M845 509.9v2.5M852.2 829v-2.5 M852.2 509.9v2.5M858.6 829v-3.5 M858.6 509.9v3.5M900.9 829v-2.5 M900.9 509.9v2.5M925.6 829v-2.5 M925.6 509.9v2.5M943.1 829v-2.5 M943.1 509.9v2.5M956.7 829v-2.5 M956.7 509.9v2.5M577.8 829h3.5 M958.6 829h-3.5M577.8 789.1h2.5 M958.6 789.1h-2.5M577.8 749.2h3.5 M958.6 749.2h-3.5M577.8 709.3h2.5 M958.6 709.3h-2.5M577.8 669.5h3.5 M958.6 669.5h-3.5M577.8 629.6h2.5 M958.6 629.6h-2.5M577.8 589.7h3.5 M958.6 589.7h-3.5M577.8 549.8h2.5 M958.6 549.8h-2.5M577.8 509.9h3.5 M958.6 509.9h-3.5"/>
</g>
<rect x="803" y="510.4" width="80.5" height="318.6" fill="rgb(165,250,250)" fill-opacity="0.5" stroke="#0000ff" stroke-opacity="0.55" stroke-width="3.5" stroke-dasharray="8.5 4.5"/>
<g font-size="32" fill="#000">
<text transform="translate(577.8 859) scale(1 1.09)" text-anchor="middle">1</text>
<text transform="translate(718.2 859) scale(1 1.09)" text-anchor="middle">10</text>
<text transform="translate(858.6 859) scale(1 1.09)" text-anchor="middle">100</text>
<text transform="translate(573.5 521.7) scale(1 1.09)" text-anchor="end">10<tspan font-size="21.5" dy="-12.6">2</tspan></text>
<text transform="translate(573.5 601.5) scale(1 1.09)" text-anchor="end">10<tspan font-size="21.5" dy="-12.6">0</tspan></text>
<text transform="translate(573.5 681.2) scale(1 1.09)" text-anchor="end">10<tspan font-size="21.5" dy="-12.6">-2</tspan></text>
<text transform="translate(573.5 761) scale(1 1.09)" text-anchor="end">10<tspan font-size="21.5" dy="-12.6">-4</tspan></text>
<text transform="translate(573.5 840.8) scale(1 1.09)" text-anchor="end">10<tspan font-size="21.5" dy="-12.6">-6</tspan></text>
<text transform="translate(716.7 891) scale(1 1.05)" font-size="32.4">Time(s)</text>
<text transform="translate(520.8 802) rotate(-90)" font-size="34">Amplitude(kN<tspan font-size="22" dy="-12.5">2</tspan><tspan dy="12.5">/Hz)</tspan></text>
<text x="491.5" y="498.5">(c)</text>
</g>
<circle cx="642.7" cy="597.4" r="17.2" fill="none" stroke="#0000ff" stroke-width="3.2"/>
<path d="M650.2 518H653.6V553.6H587V550.2H650.2z" fill="#a0a0a0" fill-opacity="0.9"/><rect x="584" y="515" width="66.2" height="35.2" fill="rgb(247,247,212)" fill-opacity="0.62" stroke="#80806c" stroke-width="1.5"/><text transform="translate(617.1 541.3) scale(1 1.09)" text-anchor="middle" font-size="24" font-weight="bold" fill="#0000ff">3.9Hz</text>
<path d="M777.5 518.2H780.9V553.6H714V550.2H777.5z" fill="#a0a0a0" fill-opacity="0.9"/><rect x="711" y="515.2" width="66.5" height="35" fill="rgb(247,247,212)" fill-opacity="0.62" stroke="#80806c" stroke-width="1.5"/><text transform="translate(744.2 541.4) scale(1 1.09)" text-anchor="middle" font-size="24" font-weight="bold" fill="#0000ff">7.5Hz</text>
<path d="M957 524.6H960.4V561.3H855V557.9H957z" fill="#a0a0a0" fill-opacity="0.9"/><rect x="852" y="521.6" width="105" height="36.3" fill="rgb(247,247,212)" fill-opacity="0.62" stroke="#80806c" stroke-width="1.5"/><text transform="translate(904.5 548.5) scale(1 1.09)" text-anchor="middle" font-size="24" font-weight="bold" fill="#0000ff">40-140Hz</text>
<path d="M597.2 552.8L623.5 574.9" stroke="#0000ff" stroke-width="3.2"/><path d="M636.5 585.9L618.6 577.6L625.3 569.7z" fill="#0000ff"/>
<path d="M735.7 552.2L714.9 598.4" stroke="#0000ff" stroke-width="3.2"/><path d="M707.9 613.9L711 594.4L720.4 598.7z" fill="#0000ff"/>
<path d="M916.2 553.2L856.3 595.9" stroke="#0000ff" stroke-width="3.2"/><path d="M842.5 605.8L854.9 590.5L861 599z" fill="#0000ff"/>
</svg>
</body>
</html>
